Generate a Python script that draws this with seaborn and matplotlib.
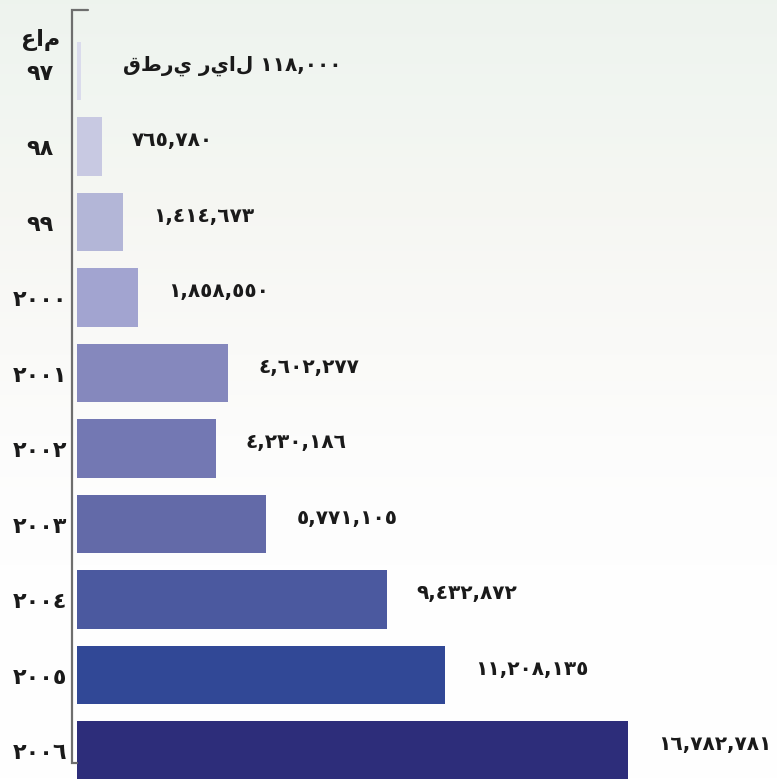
import numpy as np
import pandas as pd
import matplotlib
matplotlib.use("Agg")
import matplotlib.pyplot as plt
import matplotlib.transforms as mtransforms
import seaborn as sns

# ---- data ----
years = ["٩٧", "٩٨", "٩٩", "٢٠٠٠", "٢٠٠١", "٢٠٠٢", "٢٠٠٣", "٢٠٠٤", "٢٠٠٥", "٢٠٠٦"]
values = [118000, 765780, 1414673, 1858550, 4602277, 4230186, 5771105, 9432872, 11208135, 16782781]
bar_colors = ["#dadbec", "#c8c9e2", "#b3b6d7", "#a2a4d0", "#8588bd",
              "#7378b3", "#636aa8", "#4b599f", "#314896", "#2d2d7a"]
word_year = "عام"
currency_words = ["ريال", "قطري"]  # "ريال قطري"

AR_DIGITS = str.maketrans("0123456789", "٠١٢٣٤٥٦٧٨٩")
def ar_num(v):
    return f"{v:,}".translate(AR_DIGITS)

df = pd.DataFrame({"year": years, "value": values})

sns.set_style("white")
plt.rcParams["font.family"] = ["DejaVu Sans"]

W, H = 777, 779
fig = plt.figure(figsize=(W / 100, H / 100), dpi=100)

# background gradient
bg = fig.add_axes([0, 0, 1, 1], zorder=0)
stops = np.array([0.0, 0.12, 0.28, 0.45, 0.65, 1.0])
cols = np.array([[0.933, 0.953, 0.933],
                 [0.945, 0.963, 0.945],
                 [0.965, 0.968, 0.953],
                 [0.980, 0.980, 0.972],
                 [0.995, 0.995, 0.995],
                 [1.0, 1.0, 1.0]])
t = np.linspace(0, 1, 400)
grad = np.stack([np.interp(t, stops, cols[:, k]) for k in range(3)], axis=-1)
bg.imshow(grad[:, None, :], aspect="auto", extent=[0, 1, 0, 1], origin="upper")
bg.set_axis_off()

x0_px = 77
ax = fig.add_axes([x0_px / W, 0, (W - x0_px) / W, 1], zorder=1)
ax.set_facecolor("none")

sns.barplot(data=df, x="value", y="year", hue="year", palette=bar_colors,
            orient="h", width=0.78, legend=False, ax=ax, saturation=1,
            linewidth=0, edgecolor="none")

pitch = 75.5
c0 = 71.0
ax.set_ylim((H - c0) / pitch, -c0 / pitch)
xmax = max(values) * (W - x0_px) / 551.0
ax.set_xlim(0, xmax)

for s in ax.spines.values():
    s.set_visible(False)
ax.set_xticks([])
ax.set_yticks(range(len(years)))
ax.set_yticklabels(years, fontsize=16, fontweight="bold", color="#1a1a1a")
ax.tick_params(axis="y", length=0, pad=26.6)
shift_down = mtransforms.ScaledTranslation(0, -3 / 100, fig.dpi_scale_trans)
for lab in ax.get_yticklabels():
    lab.set_horizontalalignment("center")
    lab.set_verticalalignment("center")
    lab.set_transform(lab.get_transform() + shift_down)
ax.set_xlabel("")
ax.set_ylabel("")

# bracket-shaped axis line
def px2x(px):
    return (px - x0_px) * xmax / (W - x0_px)
def py2y(py):
    return (py - c0) / pitch
ax.plot([px2x(88), px2x(72), px2x(72), px2x(77)],
        [py2y(10), py2y(10), py2y(763), py2y(763)],
        color="#6e6e6e", lw=1.6, clip_on=False, solid_joinstyle="miter")

# value labels
for i, v in enumerate(values):
    txt = ar_num(v)
    off = 21.6
    if i == 0:
        # words placed in visual (left-to-right) order; each word is shaped by the renderer
        txt = " ".join(reversed(currency_words)) + " " + txt
        off = 30
    ax.annotate(txt, xy=(v, i), xytext=(off, 4), textcoords="offset points",
                ha="left", va="center", fontsize=14.5, fontweight="semibold",
                color="#1a1a1a")

fig.text(41 / W, 1 - 40 / H, word_year, ha="center", va="center",
         fontsize=16, fontweight="bold", color="#1a1a1a")

fig.savefig("out.png", dpi=100)
